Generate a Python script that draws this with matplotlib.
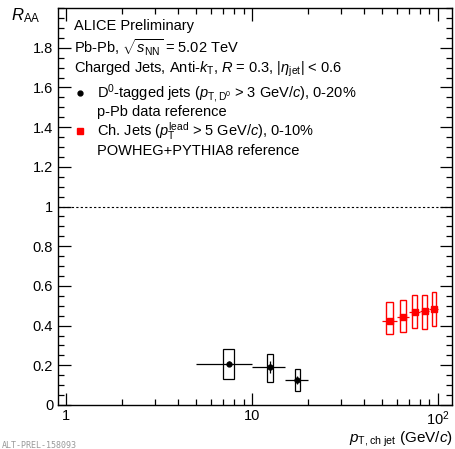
import numpy as np
import matplotlib
matplotlib.use('Agg')
import matplotlib.pyplot as plt
from matplotlib.patches import Rectangle
from matplotlib.ticker import MultipleLocator, LogLocator, NullFormatter

plt.rcParams['font.family'] = ['Liberation Sans', 'DejaVu Sans']
plt.rcParams['mathtext.fontset'] = 'custom'
plt.rcParams['mathtext.rm'] = 'Liberation Sans'
plt.rcParams['mathtext.it'] = 'Liberation Sans:italic'

# D0-tagged jets, 0-20%
d0_x = np.array([7.5, 12.5, 17.5])
d0_xerr = np.array([2.5, 2.5, 2.5])
d0_y = np.array([0.209, 0.190, 0.128])
d0_stat = np.array([0.012, 0.030, 0.020])
d0_sys_lo = np.array([0.131, 0.118, 0.071])
d0_sys_hi = np.array([0.281, 0.259, 0.182])

# charged jets, 0-10%
ch_x = np.array([55, 65, 75, 85, 95])
ch_xerr = np.array([5, 5, 5, 5, 5])
ch_y = np.array([0.423, 0.443, 0.468, 0.475, 0.483])
ch_stat = np.array([0.008, 0.008, 0.008, 0.010, 0.012])
ch_sys_lo = np.array([0.359, 0.370, 0.387, 0.382, 0.396])
ch_sys_hi = np.array([0.517, 0.530, 0.556, 0.556, 0.571])

fig = plt.figure(figsize=(4.55, 4.49), dpi=100)
ax = fig.add_axes([0.1275, 0.098, 0.866, 0.884])
ax.set_xscale('log')
ax.set_xlim(0.905, 119)
ax.set_ylim(0, 2.0)

ax.axhline(1.0, color='black', ls=(0, (2, 2)), lw=0.8)

# systematic boxes
for x, lo, hi in zip(d0_x, d0_sys_lo, d0_sys_hi):
    ax.add_patch(Rectangle((x - 0.5, lo), 1.0, hi - lo, fill=False,
                           edgecolor='black', lw=0.9))
for x, lo, hi in zip(ch_x, ch_sys_lo, ch_sys_hi):
    ax.add_patch(Rectangle((x - 2.5, lo), 5.0, hi - lo, fill=False,
                           edgecolor='red', lw=1.0))

ax.errorbar(d0_x, d0_y, xerr=d0_xerr, yerr=d0_stat, fmt='o', color='black',
            ms=3.5, lw=0.9, capsize=0)
ax.errorbar(ch_x, ch_y, xerr=ch_xerr, yerr=ch_stat, fmt='s', color='red',
            ms=5, lw=0.9, capsize=0)

ax.yaxis.set_major_locator(MultipleLocator(0.2))
ax.yaxis.set_minor_locator(MultipleLocator(0.05))
ax.set_yticks(np.arange(0, 2.0, 0.2))
ax.set_yticklabels(['0', '0.2', '0.4', '0.6', '0.8', '1', '1.2', '1.4', '1.6', '1.8'])
ax.xaxis.set_minor_locator(LogLocator(base=10, subs=np.arange(2, 10), numticks=20))
ax.xaxis.set_minor_formatter(NullFormatter())
ax.set_xticks([1, 10, 100])
ax.set_xticklabels(['1', '10', r'$10^{2}$'])
ax.tick_params(which='both', direction='in', top=True, right=True, labelsize=10.5)
ax.tick_params(which='major', length=9, width=0.9)
ax.tick_params(which='minor', length=4.5, width=0.9)
ax.tick_params(axis='x', pad=3)
for s in ax.spines.values():
    s.set_linewidth(1.0)

fig.text(0.025, 0.955, r'$R_{\rm AA}$', fontsize=12)
fig.text(0.995, 0.014, r'$p_{\rm T,ch\ jet}$ (GeV/$c$)', fontsize=11, ha='right')
fig.text(0.005, 0.003, 'ALT-PREL-158093', fontsize=6, color='#999999',
         family='DejaVu Sans Mono')

fs = 10.5
ax.text(0.04, 0.955, 'ALICE Preliminary', transform=ax.transAxes, fontsize=fs, va='center')
ax.text(0.04, 0.900, r'Pb-Pb, $\sqrt{s_{\rm NN}}$ = 5.02 TeV', transform=ax.transAxes,
        fontsize=fs, va='center')
ax.text(0.04, 0.846, r'Charged Jets, Anti-$k_{\rm T}$, $R$ = 0.3, |$\eta_{\rm jet}$| < 0.6',
        transform=ax.transAxes, fontsize=fs, va='center')
ax.plot([0.056], [0.785], 'o', color='black', ms=3.5, transform=ax.transAxes)
ax.text(0.099, 0.785, r'D$^{0}$-tagged jets ($p_{\rm T,D^{0}}$ > 3 GeV/$c$), 0-20%',
        transform=ax.transAxes, fontsize=fs, va='center')
ax.text(0.099, 0.738, 'p-Pb data reference', transform=ax.transAxes, fontsize=fs, va='center')
ax.plot([0.056], [0.690], 's', color='red', ms=5, transform=ax.transAxes)
ax.text(0.099, 0.690, r'Ch. Jets ($p_{\rm T}^{\rm lead}$ > 5 GeV/$c$), 0-10%',
        transform=ax.transAxes, fontsize=fs, va='center')
ax.text(0.099, 0.640, 'POWHEG+PYTHIA8 reference', transform=ax.transAxes, fontsize=fs,
        va='center')

fig.savefig('out.png', dpi=100)
